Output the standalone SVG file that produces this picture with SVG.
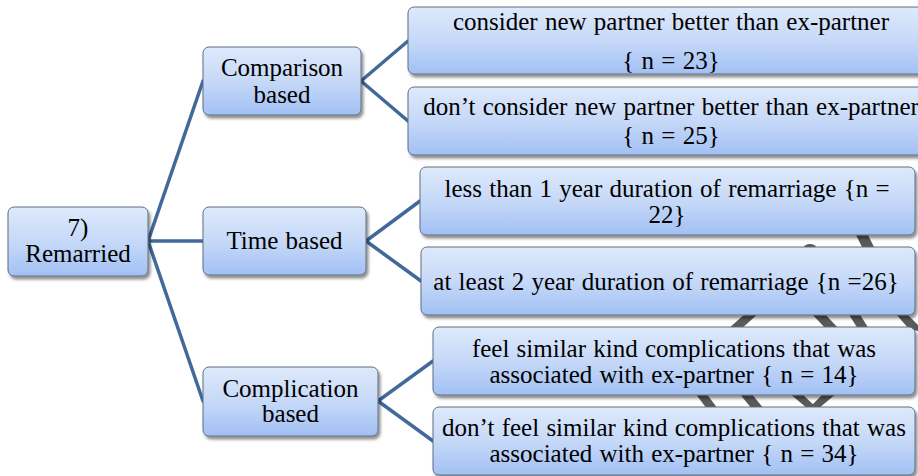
<svg xmlns="http://www.w3.org/2000/svg" width="918" height="476" viewBox="0 0 918 476">
<defs>
<linearGradient id="g" x1="0" y1="0" x2="0" y2="1">
<stop offset="0" stop-color="#DEE9FB"/>
<stop offset="0.5" stop-color="#C6D9F8"/>
<stop offset="1" stop-color="#A2C0F4"/>
</linearGradient>
<filter id="sh" x="-10%" y="-10%" width="130%" height="140%">
<feGaussianBlur in="SourceAlpha" stdDeviation="1.5"/>
<feOffset dx="1.5" dy="2.5" result="b"/>
<feComponentTransfer><feFuncA type="linear" slope="0.45"/></feComponentTransfer>
<feMerge><feMergeNode/><feMergeNode in="SourceGraphic"/></feMerge>
</filter>
</defs>
<style>
.box{fill:url(#g);stroke:#5F6E80;stroke-width:1;filter:url(#sh)}
.t{font-family:"Liberation Serif","Times New Roman",serif;font-size:25px;fill:#000;text-anchor:middle;word-spacing:1px}
.c{fill:none;stroke:#41699A;stroke-width:3.5;stroke-linecap:round}
.strip{fill:#5A5A5A}
</style>
<rect width="918" height="476" fill="#fff"/>
<g id="decor">
<polygon class="strip" points="855,233 867,233 875,249 863,249"/>
<ellipse class="strip" cx="810" cy="247" rx="6" ry="3"/>
<polygon class="strip" points="746,313 759,313 741,329 728,329"/>
<polygon class="strip" points="811,313 824,313 839,329 826,329"/>
<polygon class="strip" points="848,313 859,313 869,329 858,329"/>
<polygon class="strip" points="895,313 906,313 918,325 918,331 909,329"/>
<polygon class="strip" points="695,393 706,393 718,409 707,409"/>
<polygon class="strip" points="739,393 751,393 764,409 752,409"/>
<polygon class="strip" points="789,393 801,393 818,409 808,409"/>
<polygon class="strip" points="824,393 837,393 818,409 808,409"/>
</g>
<g id="connectors">
<line class="c" x1="148" y1="241" x2="203" y2="81"/>
<line class="c" x1="148" y1="241" x2="203" y2="241"/>
<line class="c" x1="148" y1="241" x2="203" y2="401"/>
<line class="c" x1="361" y1="81" x2="408" y2="41"/>
<line class="c" x1="361" y1="81" x2="408" y2="121"/>
<line class="c" x1="366" y1="241" x2="420" y2="201"/>
<line class="c" x1="366" y1="241" x2="421" y2="281"/>
<line class="c" x1="378" y1="401" x2="433" y2="361"/>
<line class="c" x1="378" y1="401" x2="433" y2="441"/>
</g>
<g id="root">
<rect class="box" x="8" y="207" width="140" height="69" rx="6"/>
<text class="t" x="78" y="236">7)</text>
<text class="t" x="78" y="262">Remarried</text>
</g>
<g id="comparison">
<rect class="box" x="203" y="47" width="158" height="68" rx="6"/>
<text class="t" x="282" y="76">Comparison</text>
<text class="t" x="282" y="103">based</text>
</g>
<g id="time">
<rect class="box" x="203" y="207" width="163" height="68" rx="6"/>
<text class="t" x="284.5" y="249">Time based</text>
</g>
<g id="complication">
<rect class="box" x="203" y="367" width="175" height="69" rx="6"/>
<text class="t" x="290.5" y="397">Complication</text>
<text class="t" x="290.5" y="422">based</text>
</g>
<g id="c1">
<rect class="box" x="408" y="7" width="526" height="67" rx="6"/>
<text class="t" x="671" y="30">consider new partner better than ex-partner</text>
<text class="t" x="671" y="69">{ n = 23}</text>
</g>
<g id="c2">
<rect class="box" x="408" y="87" width="526" height="68" rx="6"/>
<text class="t" x="671" y="115">don’t consider new partner better than ex-partner</text>
<text class="t" x="671" y="144">{ n = 25}</text>
</g>
<g id="t1">
<rect class="box" x="420" y="167" width="495" height="68" rx="6"/>
<text class="t" x="667" y="197">less than 1 year duration of remarriage {n =</text>
<text class="t" x="667" y="223">22}</text>
</g>
<g id="t2">
<rect class="box" x="421" y="247" width="494" height="68" rx="6"/>
<text class="t" x="666" y="290">at least 2 year duration of remarriage {n =26}</text>
</g>
<g id="k1">
<rect class="box" x="433" y="327" width="482" height="68" rx="6"/>
<text class="t" x="674" y="357">feel similar kind complications that was</text>
<text class="t" x="674" y="383">associated with ex-partner { n = 14}</text>
</g>
<g id="k2">
<rect class="box" x="433" y="407" width="482" height="68" rx="6"/>
<text class="t" x="674" y="436">don’t feel similar kind complications that was</text>
<text class="t" x="674" y="462">associated with ex-partner { n = 34}</text>
</g>
</svg>
